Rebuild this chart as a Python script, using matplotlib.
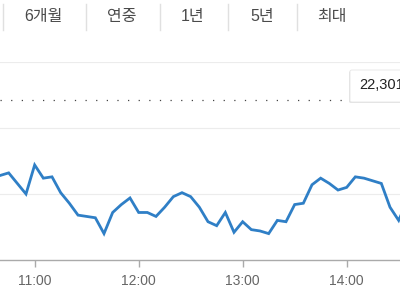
import numpy as np
import matplotlib
matplotlib.use("Agg")
import matplotlib.pyplot as plt
from matplotlib.patches import FancyBboxPatch

plt.rcParams['font.family'] = ['Liberation Sans', 'Noto Sans CJK KR', 'DejaVu Sans']

# tabs on top of the chart
tabs = ["6개월", "연중", "1년", "5년", "최대"]

# intraday prices, every 5 minutes from 10:40
start_min = 10 * 60 + 40
prices = [22244, 22246, 22238, 22230, 22252, 22242, 22243, 22231, 22223, 22214,
          22213, 22212, 22200, 22216, 22222, 22227, 22216, 22216, 22213, 22220,
          22228, 22231, 22228, 22220, 22209, 22206, 22216, 22201, 22209, 22203,
          22202, 22200, 22210, 22209, 22222, 22223, 22237, 22242, 22238, 22233,
          22235, 22243, 22242, 22240, 22238, 22220, 22210, 22225]
prev_close = 22301
prev_label = "22,301"

tick_times = [11 * 60, 12 * 60, 13 * 60, 14 * 60]
tick_labels = ["11:00", "12:00", "13:00", "14:00"]
grid_levels = [22230, 22280, 22330]

times = start_min + 5 * np.arange(len(prices))

fig = plt.figure(figsize=(4, 3), dpi=100)
ax = fig.add_axes([0, 40 / 300, 1, 198 / 300])

for g in grid_levels:
    ax.axhline(g, color="#ececec", lw=0.8, zorder=0)
ax.axhline(prev_close, color="#444444", lw=0.9, ls=(0, (1, 7.5)), zorder=1,
           xmax=345 / 400)
ax.plot(times, prices, color="#2f7fc6", lw=2.0, solid_joinstyle="miter", zorder=3)

ax.set_xlim(start_min, start_min + 400 / 104 * 60)
ax.set_ylim(22180, 22330)
for s in ["top", "left", "right"]:
    ax.spines[s].set_visible(False)
ax.spines["bottom"].set_color("#aaaaaa")
ax.spines["bottom"].set_linewidth(1.0)
ax.set_yticks([])
ax.set_xticks(tick_times)
ax.set_xticklabels(tick_labels)
ax.tick_params(axis="x", length=5, width=1, color="#aaaaaa", labelcolor="#666666",
               labelsize=10, pad=5)

# tooltip box for previous close
shadow = FancyBboxPatch((349 / 400, (300 - 103) / 300), 0.2, 32 / 300,
                        boxstyle="round,pad=0,rounding_size=0.005",
                        transform=fig.transFigure, facecolor="#e4e4e4",
                        edgecolor="none", zorder=4)
fig.patches.append(shadow)
box = FancyBboxPatch((350 / 400, (300 - 102) / 300), 0.2, 32 / 300,
                     boxstyle="round,pad=0,rounding_size=0.005",
                     transform=fig.transFigure, facecolor="white",
                     edgecolor="#e6e6e6", lw=0.6, zorder=5)
fig.patches.append(box)
fig.text(359 / 400, (300 - 85) / 300, prev_label, fontsize=10.5, color="#222222",
         va="center", ha="left", zorder=6)

# top tabs
tab_x = [43, 122, 193, 262, 332]
sep_x = [3, 86, 160, 228, 297]
for x, t in zip(tab_x, tabs):
    fig.text(x / 400, (300 - 17) / 300, t, fontsize=11.5, color="#4a4a4a",
             ha="center", va="center")
for x in sep_x:
    fig.add_artist(plt.Line2D([x / 400, x / 400], [(300 - 4) / 300, (300 - 30) / 300],
                              color="#e0e0e0", lw=1, transform=fig.transFigure))

fig.savefig("out.png", dpi=100)
